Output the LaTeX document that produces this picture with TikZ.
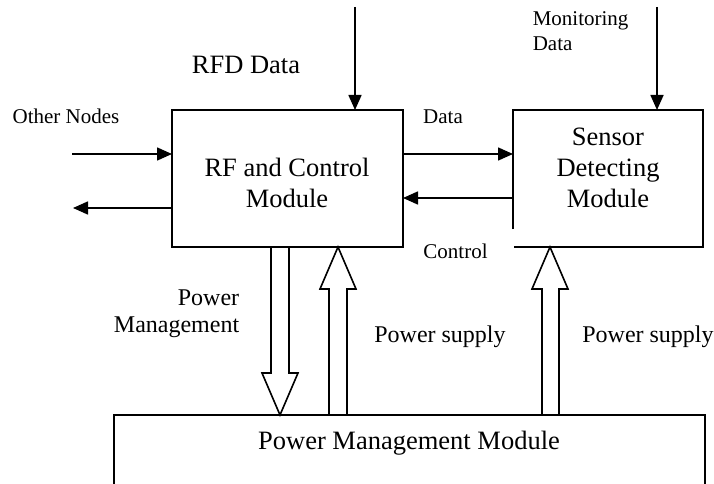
\documentclass[tikz,border=0pt]{standalone}
\usepackage{fontspec}
\setmainfont{Liberation Serif}
\usetikzlibrary{arrows.meta,calc}
\begin{document}
\begin{tikzpicture}[x=1pt,y=-1pt,
  line width=1.6pt,
  lbl/.style={inner sep=0pt, anchor=base},
  big/.style={font=\fontsize{26.5}{31}\selectfont},
  mid/.style={font=\fontsize{24}{27}\selectfont},
  small/.style={font=\fontsize{21}{25}\selectfont},
  arr/.style={-{Triangle[length=15pt,width=13pt]}},
  hollow/.style={draw, line join=miter},
  box/.style={inner sep=0pt, outer sep=0pt, anchor=north west}
]
\useasboundingbox (0,0) rectangle (714,484);

% boxes
\node[box, draw, minimum width=231pt, minimum height=137pt] (rf) at (172,110) {};
\node[box, minimum width=190pt, minimum height=137pt] (sd) at (513,110) {};
\draw ($(sd.south west)+(0,-18)$) -- (sd.north west) -- (sd.north east) -- (sd.south east) -- ($(sd.south west)+(1,0)$);
\node[box, minimum width=591pt, minimum height=69pt] (pm) at (114,415) {};
\draw (pm.south west) -- (pm.north west) -- (pm.north east) -- (pm.south east);

% thin arrows
\coordinate (rfdtop) at (355,7);
\coordinate (montop) at (657,7);
\coordinate (othin) at (72,154);
\coordinate (othout) at (73,208);
\coordinate (datay) at (0,154);
\coordinate (ctrly) at (0,198);
\draw[arr] (rfdtop) -- (rfdtop |- rf.north);
\draw[arr] (montop) -- (montop |- sd.north);
\draw[arr] (othin) -- (othin -| rf.west);
\draw[arr] (othout -| rf.west) -- (othout);
\draw[arr] (datay -| rf.east) -- (datay -| sd.west);
\draw[arr] (ctrly -| sd.west) -- (ctrly -| rf.east);

% hollow arrows
\draw[hollow] (271,247) -- (271,373) -- (262,373) -- (280,415) -- (298,373) -- (289,373) -- (289,247);
\draw[hollow] (329,415) -- (329,289) -- (320,289) -- (338,247) -- (356,289) -- (347,289) -- (347,415);
\draw[hollow] (542,415) -- (542,289) -- (532,289) -- (550,247) -- (568,289) -- (559,289) -- (559,415);

% texts
\node[lbl,big] (trfd) at (246,74) {RFD Data};
\node[lbl,small] (toth) at (66,124) {Other Nodes};
\node[lbl,big] (trf1) at (287,176) {RF and Control};
\node[lbl,big] (trf2) at (287,207) {Module};
\node[lbl,small] (tdata) at (443,124) {Data};
\node[lbl,small,anchor=base west] (tmon1) at (532,26) {Monitoring};
\node[lbl,small,anchor=base west] (tmon2) at (532,51) {Data};
\node[lbl,big] (tsd1) at (608,145) {Sensor};
\node[lbl,big] (tsd2) at (608,176) {Detecting};
\node[lbl,big] (tsd3) at (608,207) {Module};
\node[lbl,small] (tctrl) at (455.5,258) {Control};
\node[lbl,mid,anchor=base east] (tpm1) at (240,305) {Power};
\node[lbl,mid,anchor=base east] (tpm2) at (240,332) {Management};
\node[lbl,mid] (tps1) at (440,342) {Power supply};
\node[lbl,mid] (tps2) at (648,342) {Power supply};
\node[lbl,big] (tpmm) at (409,449) {Power Management Module};
\end{tikzpicture}
\end{document}
